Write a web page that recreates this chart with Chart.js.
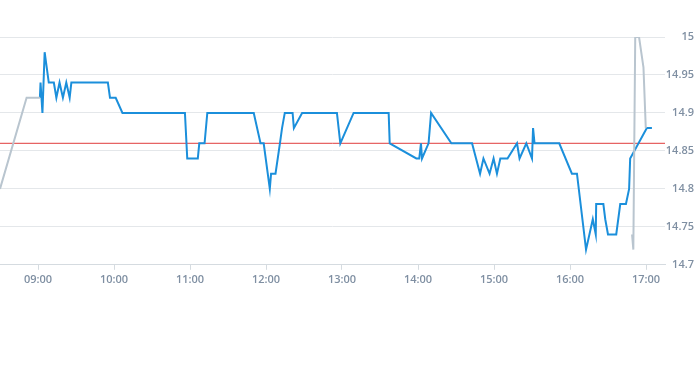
<!DOCTYPE html>
<html>
<head>
<meta charset="utf-8">
<script src="https://cdn.jsdelivr.net/npm/chart.js@4.4.1/dist/chart.umd.min.js"></script>
<style>
  html, body { margin: 0; padding: 0; background: #fff; }
  #wrap { position: relative; width: 695px; height: 300px; }
</style>
</head>
<body>
<div id="wrap"><canvas id="priceChart"></canvas></div>
<script>
// trading session (blue)
const sessionTimes = [
  "09:01:30", "09:02:00", "09:03:30", "09:05:15", "09:08:30", "09:12:30", "09:14:30", "09:17:00",
  "09:19:40", "09:22:20", "09:25:00", "09:26:20", "09:55:10", "09:56:50", "10:01:20", "10:06:40",
  "10:56:00", "10:57:50", "11:06:10", "11:07:20", "11:11:30", "11:13:40", "11:50:20", "11:55:40",
  "11:58:10", "12:03:00", "12:04:00", "12:07:30", "12:11:00", "12:12:40", "12:14:50", "12:21:00",
  "12:22:00", "12:28:30", "12:56:00", "12:58:40", "13:09:10", "13:36:50", "13:37:40", "13:58:40",
  "14:01:00", "14:02:20", "14:03:10", "14:08:20", "14:10:20", "14:26:20", "14:42:40", "14:49:00",
  "14:51:40", "14:56:30", "14:59:40", "15:02:20", "15:05:00", "15:10:40", "15:18:10", "15:20:10",
  "15:25:30", "15:30:00", "15:30:50", "15:32:00", "15:51:30", "16:01:30", "16:05:30", "16:12:40",
  "16:18:00", "16:20:20", "16:20:40", "16:26:20", "16:27:50", "16:30:00", "16:36:30", "16:39:40",
  "16:44:10", "16:46:40", "16:47:30", "17:00:40", "17:04:40"
];
const sessionValues = [
  14.92, 14.94, 14.90, 14.98, 14.94, 14.94, 14.92, 14.94,
  14.92, 14.94, 14.92, 14.94, 14.94, 14.92, 14.92, 14.90,
  14.90, 14.84, 14.84, 14.86, 14.86, 14.90, 14.90, 14.86,
  14.86, 14.80, 14.82, 14.82, 14.86, 14.88, 14.90, 14.90,
  14.88, 14.90, 14.90, 14.86, 14.90, 14.90, 14.86, 14.84,
  14.84, 14.86, 14.84, 14.86, 14.90, 14.86, 14.86, 14.82,
  14.84, 14.82, 14.84, 14.82, 14.84, 14.84, 14.86, 14.84,
  14.86, 14.84, 14.88, 14.86, 14.86, 14.82, 14.82, 14.72,
  14.76, 14.74, 14.78, 14.78, 14.76, 14.74, 14.74, 14.78,
  14.78, 14.80, 14.84, 14.88, 14.88
];

// pre / post market (grey)
const preTimes = ["08:30", "08:51", "09:01:30"];
const preValues = [14.80, 14.92, 14.92];
const postTimes = ["16:49", "16:50", "16:51:30", "16:54:30", "16:58", "16:59:50"];
const postValues = [14.74, 14.72, 15.00, 15.00, 14.96, 14.88];

const refPrice = 14.86;
const hourLabels = ["09:00", "10:00", "11:00", "12:00", "13:00", "14:00", "15:00", "16:00", "17:00"];
const xRange = ["08:30", "17:15"];
const yTicks = [14.7, 14.75, 14.8, 14.85, 14.9, 14.95, 15];

const toMin = (s) => {
  const p = s.split(":").map(Number);
  return p[0] * 60 + p[1] + (p[2] || 0) / 60;
};
const pts = (times, vals) => times.map((t, i) => ({ x: toMin(t), y: vals[i] }));
const fmt = (m) => String(Math.floor(m / 60)).padStart(2, "0") + ":" + String(Math.round(m % 60)).padStart(2, "0");

const xMin = toMin(xRange[0]);
const xMax = toMin(xRange[1]);
const tickColor = "#7f8fa2";
const tickFont = { family: "'Open Sans', sans-serif", size: 11, weight: "600" };

const grey = "#b9c5cf";

new Chart(document.getElementById("priceChart"), {
  type: "line",
  data: {
    datasets: [
      { data: pts(postTimes, postValues), borderColor: grey, borderWidth: 2, order: 0 },
      { data: pts(preTimes, preValues), borderColor: grey, borderWidth: 2, order: 0 },
      { data: pts(sessionTimes, sessionValues), borderColor: "#1b8fdb", borderWidth: 2, order: 1 },
      { data: [{ x: xMin, y: refPrice }, { x: xMax, y: refPrice }], borderColor: "#e03c3c", borderWidth: 1, order: 2 }
    ]
  },
  options: {
    responsive: true,
    maintainAspectRatio: false,
    animation: false,
    elements: { point: { radius: 0, hoverRadius: 0 }, line: { tension: 0, borderJoinStyle: "miter" } },
    layout: { padding: { top: 37, bottom: 11, left: 0, right: 1 } },
    plugins: { legend: { display: false }, tooltip: { enabled: false } },
    scales: {
      x: {
        type: "linear",
        min: xMin,
        max: xMax,
        afterBuildTicks: (axis) => { axis.ticks = hourLabels.map((l) => ({ value: toMin(l) })); },
        ticks: { color: tickColor, font: tickFont, padding: 3, maxRotation: 0, callback: (v) => fmt(v) },
        grid: { drawOnChartArea: false, drawTicks: true, tickLength: 5, color: "#d5dbe0" },
        border: { display: true, color: "#d5dbe0" }
      },
      y: {
        position: "right",
        min: yTicks[0],
        max: yTicks[yTicks.length - 1],
        afterBuildTicks: (axis) => { axis.ticks = yTicks.map((v) => ({ value: v })); },
        afterFit: (axis) => { axis.width = 29; },
        ticks: { color: tickColor, font: tickFont, padding: 0, crossAlign: "far", callback: (v) => String(v) },
        grid: { color: "#e4e7ea", drawTicks: false },
        border: { display: false }
      }
    }
  }
});
</script>
</body>
</html>
